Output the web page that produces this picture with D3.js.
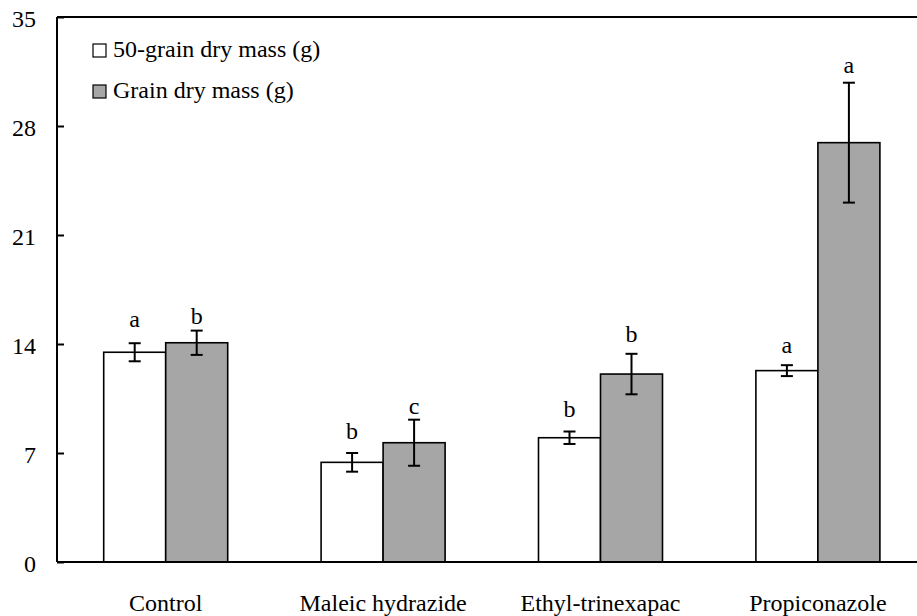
<!DOCTYPE html>
<html>
<head>
<meta charset="utf-8">
<script src="https://cdn.jsdelivr.net/npm/d3@7"></script>
<style>
  body { margin: 0; background: #fff; }
  svg text { font-family: "Liberation Serif", "DejaVu Serif", serif; }
</style>
</head>
<body>
<div id="chart"></div>
<script>
const categories = ['Control', 'Maleic hydrazide', 'Ethyl-trinexapac', 'Propiconazole'];
const seriesNames = ['50-grain dry mass (g)', 'Grain dry mass (g)'];
const yTicks = [0, 7, 14, 21, 28, 35];

// 50-grain dry mass
const massFifty = [13.47, 6.40, 7.98, 12.29];
const errFifty = [0.58, 0.60, 0.40, 0.35];
const letterFifty = ['a', 'b', 'b', 'a'];
const letterFiftyAt = [15.1, 7.9, 9.3, 13.4];

// grain dry mass
const massGrain = [14.08, 7.66, 12.07, 26.93];
const errGrain = [0.78, 1.48, 1.30, 3.85];
const letterGrain = ['b', 'c', 'b', 'a'];
const letterGrainAt = [15.3, 9.5, 14.15, 31.4];

const W = 917, H = 616;
const plotLeft = 57, plotTop = 17, plotBottom = 562;
const groupW = 217.4;

const rows = [];
categories.forEach(function(c, i) {
  rows.push({cat: c, key: 's0', v: massFifty[i], e: errFifty[i], lab: letterFifty[i], labAt: letterFiftyAt[i]});
  rows.push({cat: c, key: 's1', v: massGrain[i], e: errGrain[i], lab: letterGrain[i], labAt: letterGrainAt[i]});
});

const svg = d3.select('#chart').append('svg')
  .attr('width', W)
  .attr('height', H)
  .style('display', 'block');

const x = d3.scaleBand()
  .domain(categories)
  .range([plotLeft, plotLeft + groupW * categories.length])
  .paddingInner(0)
  .paddingOuter(0);

const x1 = d3.scaleBand()
  .domain(['s0', 's1'])
  .range([x.bandwidth() / 2 - 62, x.bandwidth() / 2 + 62]);

const y = d3.scaleLinear().domain([0, 35]).range([plotBottom, plotTop]);

const fills = {s0: '#ffffff', s1: '#a6a6a6'};

// bars
svg.append('g')
  .selectAll('rect')
  .data(rows)
  .enter()
  .append('rect')
  .attr('x', function(d) { return x(d.cat) + x1(d.key); })
  .attr('y', function(d) { return y(d.v); })
  .attr('width', x1.bandwidth())
  .attr('height', function(d) { return y(0) - y(d.v); })
  .attr('fill', function(d) { return fills[d.key]; })
  .attr('stroke', '#000')
  .attr('stroke-width', 1.6);

// error bars
const errs = svg.append('g')
  .attr('stroke', '#000')
  .attr('stroke-width', 2)
  .selectAll('g')
  .data(rows)
  .enter()
  .append('g')
  .attr('transform', function(d) {
    return 'translate(' + (x(d.cat) + x1(d.key) + x1.bandwidth() / 2) + ',0)';
  });

errs.append('line')
  .attr('x1', 0).attr('x2', 0)
  .attr('y1', function(d) { return y(d.v + d.e); })
  .attr('y2', function(d) { return y(d.v - d.e); });
errs.append('line')
  .attr('x1', -6).attr('x2', 6)
  .attr('y1', function(d) { return y(d.v + d.e); })
  .attr('y2', function(d) { return y(d.v + d.e); });
errs.append('line')
  .attr('x1', -6).attr('x2', 6)
  .attr('y1', function(d) { return y(d.v - d.e); })
  .attr('y2', function(d) { return y(d.v - d.e); });

// significance letters
svg.append('g')
  .selectAll('text')
  .data(rows)
  .enter()
  .append('text')
  .attr('x', function(d) { return x(d.cat) + x1(d.key) + x1.bandwidth() / 2; })
  .attr('y', function(d) { return y(d.labAt); })
  .attr('text-anchor', 'middle')
  .attr('font-size', 24)
  .text(function(d) { return d.lab; });

// y axis
const yAxis = d3.axisLeft(y)
  .tickValues(yTicks)
  .tickSize(-7)
  .tickPadding(21)
  .tickFormat(d3.format('d'));
const yg = svg.append('g')
  .attr('transform', 'translate(' + plotLeft + ',0)')
  .call(yAxis);
yg.attr('font-family', null);
yg.select('.domain').attr('stroke-width', 2).attr('d', 'M0,' + plotTop + 'V' + plotBottom);
yg.selectAll('.tick line').attr('stroke-width', 2);
yg.selectAll('.tick text')
  .attr('font-size', 24)
  .attr('fill', '#000')
  .attr('dy', '0.38em');

// frame: top and bottom
svg.append('line')
  .attr('x1', plotLeft).attr('x2', W)
  .attr('y1', y(35)).attr('y2', y(35))
  .attr('stroke', '#000').attr('stroke-width', 2);
svg.append('line')
  .attr('x1', plotLeft).attr('x2', W)
  .attr('y1', y(0)).attr('y2', y(0))
  .attr('stroke', '#000').attr('stroke-width', 2);

// category labels
svg.append('g')
  .selectAll('text')
  .data(categories)
  .enter()
  .append('text')
  .attr('x', function(d) { return x(d) + x.bandwidth() / 2; })
  .attr('y', 611)
  .attr('text-anchor', 'middle')
  .attr('font-size', 24)
  .text(function(d) { return d; });

// legend
const legend = svg.append('g')
  .selectAll('g')
  .data(seriesNames)
  .enter()
  .append('g')
  .attr('transform', function(d, i) { return 'translate(93,' + (44 + i * 41) + ')'; });
legend.append('rect')
  .attr('width', 13).attr('height', 13)
  .attr('fill', function(d, i) { return fills['s' + i]; })
  .attr('stroke', '#000')
  .attr('stroke-width', 1.2);
legend.append('text')
  .attr('x', 20)
  .attr('y', 13)
  .attr('font-size', 24)
  .text(function(d) { return d; });
</script>
</body>
</html>
